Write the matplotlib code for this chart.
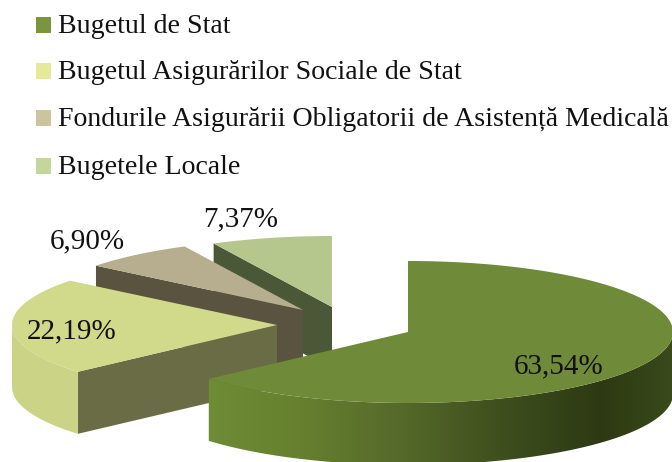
import numpy as np
import matplotlib
matplotlib.use("Agg")
import matplotlib.pyplot as plt
from matplotlib.colors import LinearSegmentedColormap
from matplotlib.patches import Polygon, Rectangle

labels = [
    "Bugetul de Stat",
    "Bugetul Asigurărilor Sociale de Stat",
    "Fondurile Asigurării Obligatorii de Asistență Medicală",
    "Bugetele Locale",
]
values = [63.54, 22.19, 6.90, 7.37]
value_labels = ["63,54%", "22,19%", "6,90%", "7,37%"]

legend_colors = ["#7a963c", "#e4ea9a", "#cbc49f", "#c5d69c"]
top_colors = ["#6f8a38", "#d1d98a", "#b6ae8e", "#b6c78e"]
cut_colors = ["#6f8a38", "#6a6c45", "#5a5340", "#4b5838"]
rim_color = "#cbd387"

# slice centres after the explosion, in pixels
centers = [(408, 332), (277, 325), (303, 310), (332, 307)]
label_pos = [(559, 373), (72, 338), (87, 248), (241, 226)]
legend_y = [32, 78, 125, 173]
rx, ry, depth = 265, 71, 62

plt.rcParams["font.family"] = ["Liberation Serif", "DejaVu Serif"]

fig = plt.figure(figsize=(6.72, 4.62), dpi=100)
ax = fig.add_axes([0, 0, 1, 1])
ax.set_xlim(0, 672)
ax.set_ylim(462, 0)
ax.axis("off")


def rim(center, a0, a1, n=120):
    # angles in degrees, clockwise from the top of the ellipse
    t = np.radians(np.linspace(a0, a1, n))
    return np.column_stack([center[0] + rx * np.sin(t), center[1] - ry * np.cos(t)])


def wall(center, a0, a1):
    upper = rim(center, a0, a1)
    lower = upper[::-1] + [0, depth]
    return np.vstack([upper, lower])


# slice angles come from the values
edges = np.concatenate([[0], np.cumsum(values)]) / sum(values) * 360

# back to front
for i in [3, 2, 1, 0]:
    c = centers[i]
    a0, a1 = edges[i], edges[i + 1]
    start = rim(c, a0, a0, 1)[0]

    # cut face on the left of the slice
    cut = np.array([start, c, (c[0], c[1] + depth), (start[0], start[1] + depth)])
    ax.add_patch(Polygon(cut, closed=True, fc=cut_colors[i], ec="none", zorder=i * -3 + 10))

    # outer wall, only the part that faces the viewer
    w0, w1 = max(a0, 90), min(a1, 270)
    if w1 > w0:
        poly = Polygon(wall(c, w0, w1), closed=True, fc=rim_color, ec="none", zorder=i * -3 + 11)
        ax.add_patch(poly)
        if i == 0:
            poly.set_facecolor("none")
            cmap = LinearSegmentedColormap.from_list("rim", [
                (0.0, "#6f8c36"), (0.2, "#66802f"), (0.42, "#55692a"),
                (0.63, "#3f4f1e"), (0.85, "#2d3913"), (1.0, "#3a4a1b")])
            im = ax.imshow(np.linspace(0, 1, 256)[None, :], extent=(206, 672, 462, 300),
                           cmap=cmap, aspect="auto", zorder=i * -3 + 11)
            im.set_clip_path(poly)

    # top face
    top = np.vstack([[c], rim(c, a0, a1)])
    ax.add_patch(Polygon(top, closed=True, fc=top_colors[i], ec="none", zorder=i * -3 + 12))

ax.set_xlim(0, 672)
ax.set_ylim(462, 0)

for lab, (x, y) in zip(value_labels, label_pos):
    ax.text(x, y, lab, fontsize=21, color="#111111", ha="center", va="baseline", zorder=30)

for lab, col, y in zip(labels, legend_colors, legend_y):
    ax.add_patch(Rectangle((36, y - 15), 14.5, 15.5, fc=col, ec="none"))
    ax.text(58, y + 1, lab, fontsize=20.1, color="#111111", ha="left", va="baseline")

fig.savefig("out.png", dpi=100)
